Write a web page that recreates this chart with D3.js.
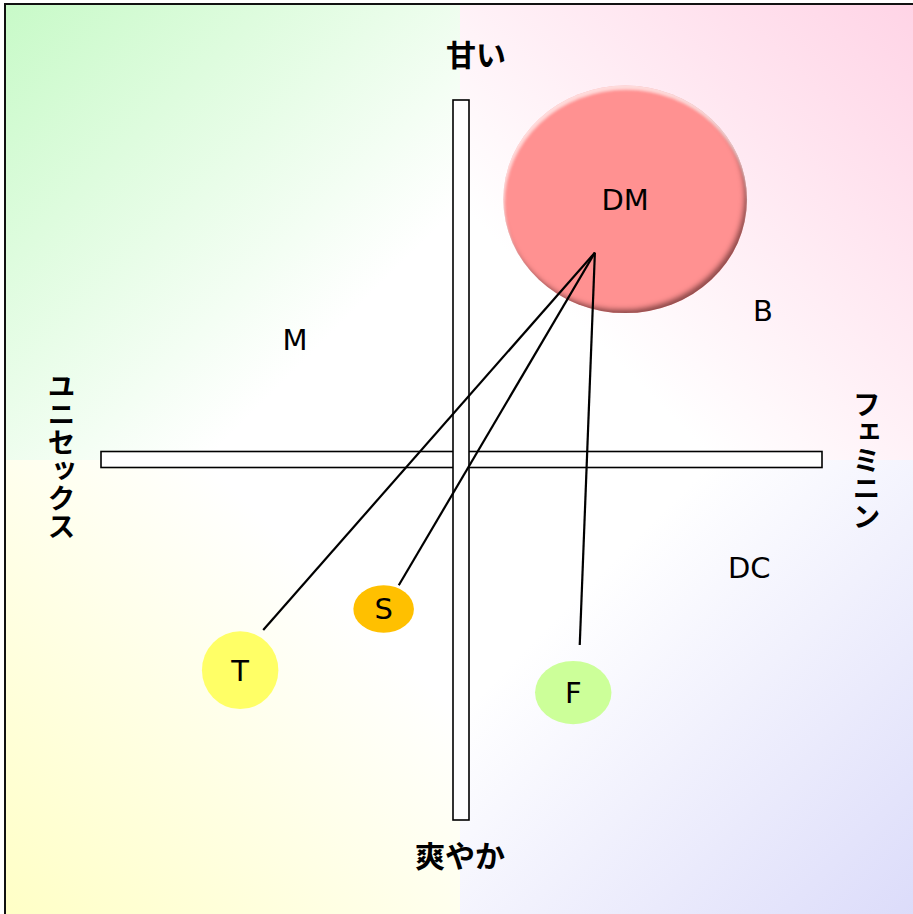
<!DOCTYPE html>
<html lang="ja">
<head>
<meta charset="utf-8">
<title>Positioning map</title>
<script src="https://cdn.jsdelivr.net/npm/d3@7"></script>
<style>
  html, body { margin: 0; padding: 0; background: #fff; }
  #chart { width: 913px; height: 914px; }
  .latin { font-family: "DejaVu Sans", "Liberation Sans", sans-serif; }
  .jp { font-family: "Noto Sans CJK JP", "Noto Sans", sans-serif; font-weight: 700; }
</style>
</head>
<body>
<div id="chart"></div>
<script>
/* ===================================================================
   Positioning map: 甘い / 爽やか  x  ユニセックス / フェミニン
   Four tinted quadrants, two bar axes, bubbles tied to DM.
   =================================================================== */

// Brands drawn as bubbles (position in map units, radii in map units)
const bubbleNames = ['DM', 'T', 'S', 'F'];
const bubbleX = [2.27, -3.07, -1.08, 1.55];
const bubbleY = [3.62, -2.92, -2.07, -3.23];
const bubbleRX = [1.69, 0.53, 0.42, 0.53];
const bubbleRY = [1.58, 0.54, 0.33, 0.44];
const bubbleColors = ['#ff9191', '#ffff66', '#ffc000', '#ccff99'];

// Brands shown only as a name
const plainNames = ['M', 'B', 'DC'];
const plainX = [-2.31, 4.18, 3.99];
const plainY = [1.67, 2.08, -1.49];

// Connector lines from DM out towards T, S, F
const linkFrom = [1.85, 2.88];
const linkToX = [-2.75, -0.87, 1.64];
const linkToY = [-2.36, -1.74, -2.57];

// Axis end labels
const axisTop = '甘い';
const axisBottom = '爽やか';
const axisLeft = 'ユニセックス';
const axisRight = 'フェミニン';

(function () {
  const W = 913, H = 914;
  const svg = d3.select('#chart').append('svg')
    .attr('width', W).attr('height', H)
    .attr('viewBox', `0 0 ${W} ${H}`);

  // map units -> pixels; axis bars span the full domain
  const x = d3.scaleLinear().domain([-5, 5]).range([101, 822]);
  const y = d3.scaleLinear().domain([-5, 5]).range([820, 100]);
  const kx = x(1) - x(0), ky = y(0) - y(1);

  const defs = svg.append('defs');

  // Quadrant backgrounds: tint in the outer corner fading to white at the centre
  const cx0 = 460, cy0 = 460, left = 6, top = 5;
  const quads = [
    { id: 'q-tl', x0: left, y0: top, x1: cx0, y1: cy0, color: '#c8fac8', from: [0, 0], to: [1, 1] },
    { id: 'q-tr', x0: cx0, y0: top, x1: W, y1: cy0, color: '#ffd4e6', from: [1, 0], to: [0, 1] },
    { id: 'q-bl', x0: left, y0: cy0, x1: cx0, y1: H, color: '#ffffc6', from: [0, 1], to: [1, 0] },
    { id: 'q-br', x0: cx0, y0: cy0, x1: W, y1: H, color: '#dcdcfa', from: [1, 1], to: [0, 0] }
  ];
  quads.forEach(q => {
    const g = defs.append('linearGradient').attr('id', q.id)
      .attr('x1', q.from[0]).attr('y1', q.from[1])
      .attr('x2', q.to[0]).attr('y2', q.to[1]);
    g.append('stop').attr('offset', 0).attr('stop-color', q.color);
    g.append('stop').attr('offset', 0.72).attr('stop-color', '#ffffff');
    g.append('stop').attr('offset', 1).attr('stop-color', '#ffffff');
  });

  svg.append('g').selectAll('rect')
    .data(quads)
    .enter()
    .append('rect')
    .attr('x', d => d.x0).attr('y', d => d.y0)
    .attr('width', d => d.x1 - d.x0).attr('height', d => d.y1 - d.y0)
    .attr('fill', d => `url(#${d.id})`);

  // Outer frame (right/bottom edges fall outside the picture)
  svg.append('rect')
    .attr('x', 5).attr('y', 4)
    .attr('width', W + 10).attr('height', H + 10)
    .attr('fill', 'none')
    .attr('stroke', '#111')
    .attr('stroke-width', 2);

  // Axis bars: hollow white strips, vertical one on top
  const barW = 16;
  svg.append('rect')
    .attr('x', x(-5)).attr('y', y(0) - barW / 2 - 0.5)
    .attr('width', x(5) - x(-5)).attr('height', barW)
    .attr('fill', '#fff').attr('stroke', '#000').attr('stroke-width', 1.6);
  svg.append('rect')
    .attr('x', x(0) - barW / 2 - 0.5).attr('y', y(5))
    .attr('width', barW).attr('height', y(-5) - y(5))
    .attr('fill', '#fff').attr('stroke', '#000').attr('stroke-width', 1.6);

  // Bevel for the big DM bubble: dark rim bottom-right, soft highlight top-left
  const f = defs.append('filter').attr('id', 'bevel')
    .attr('x', '-10%').attr('y', '-10%').attr('width', '120%').attr('height', '120%');
  f.append('feGaussianBlur').attr('in', 'SourceAlpha').attr('stdDeviation', 2.5).attr('result', 'blur');
  f.append('feOffset').attr('in', 'blur').attr('dx', -3).attr('dy', -4).attr('result', 'offDark');
  f.append('feComposite').attr('in', 'SourceAlpha').attr('in2', 'offDark').attr('operator', 'out').attr('result', 'rimDark');
  f.append('feFlood').attr('flood-color', '#3a0a0a').attr('flood-opacity', 0.75).attr('result', 'darkC');
  f.append('feComposite').attr('in', 'darkC').attr('in2', 'rimDark').attr('operator', 'in').attr('result', 'shadow');
  f.append('feGaussianBlur').attr('in', 'SourceAlpha').attr('stdDeviation', 1.5).attr('result', 'blur2');
  f.append('feOffset').attr('in', 'blur2').attr('dx', 1).attr('dy', 4).attr('result', 'offLight');
  f.append('feComposite').attr('in', 'SourceAlpha').attr('in2', 'offLight').attr('operator', 'out').attr('result', 'rimLight');
  f.append('feFlood').attr('flood-color', '#ffffff').attr('flood-opacity', 0.6).attr('result', 'lightC');
  f.append('feComposite').attr('in', 'lightC').attr('in2', 'rimLight').attr('operator', 'in').attr('result', 'hilite');
  const m = f.append('feMerge');
  m.append('feMergeNode').attr('in', 'SourceGraphic');
  m.append('feMergeNode').attr('in', 'shadow');
  m.append('feMergeNode').attr('in', 'hilite');

  const bubbles = bubbleNames.map((name, i) => ({
    name, x: bubbleX[i], y: bubbleY[i], rx: bubbleRX[i], ry: bubbleRY[i], color: bubbleColors[i]
  }));

  svg.append('g').selectAll('ellipse')
    .data(bubbles)
    .enter()
    .append('ellipse')
    .attr('cx', d => x(d.x)).attr('cy', d => y(d.y))
    .attr('rx', d => d.rx * kx).attr('ry', d => d.ry * ky)
    .attr('fill', d => d.color)
    .attr('filter', (d, i) => i === 0 ? 'url(#bevel)' : null);

  // Connectors
  svg.append('g').selectAll('line')
    .data(linkToX.map((lx, i) => [lx, linkToY[i]]))
    .enter()
    .append('line')
    .attr('x1', x(linkFrom[0])).attr('y1', y(linkFrom[1]))
    .attr('x2', d => x(d[0])).attr('y2', d => y(d[1]))
    .attr('stroke', '#000')
    .attr('stroke-width', 2.2);

  // Brand names
  const names = bubbles.map(d => ({ name: d.name, x: d.x, y: d.y }))
    .concat(plainNames.map((name, i) => ({ name, x: plainX[i], y: plainY[i] })));

  svg.append('g').selectAll('text')
    .data(names)
    .enter()
    .append('text')
    .attr('class', 'latin')
    .attr('x', d => x(d.x)).attr('y', d => y(d.y))
    .attr('dy', '0.36em')
    .attr('text-anchor', 'middle')
    .style('font-size', '29px')
    .style('fill', '#000')
    .text(d => d.name);

  // Axis end labels
  const lab = svg.append('g').attr('class', 'jp').style('fill', '#000');
  lab.append('text')
    .attr('x', x(0.2)).attr('y', 55).attr('dy', '0.36em')
    .attr('text-anchor', 'middle').style('font-size', '30px')
    .text(axisTop);
  lab.append('text')
    .attr('x', x(-0.02)).attr('y', 856).attr('dy', '0.36em')
    .attr('text-anchor', 'middle').style('font-size', '30px')
    .text(axisBottom);
  lab.append('text')
    .attr('x', 61.5).attr('y', 456.5)
    .attr('text-anchor', 'middle')
    .style('writing-mode', 'vertical-rl')
    .style('font-size', '28px')
    .text(axisLeft);
  lab.append('text')
    .attr('x', 866.5).attr('y', 460)
    .attr('text-anchor', 'middle')
    .style('writing-mode', 'vertical-rl')
    .style('font-size', '28px')
    .text(axisRight);
})();
</script>
</body>
</html>
